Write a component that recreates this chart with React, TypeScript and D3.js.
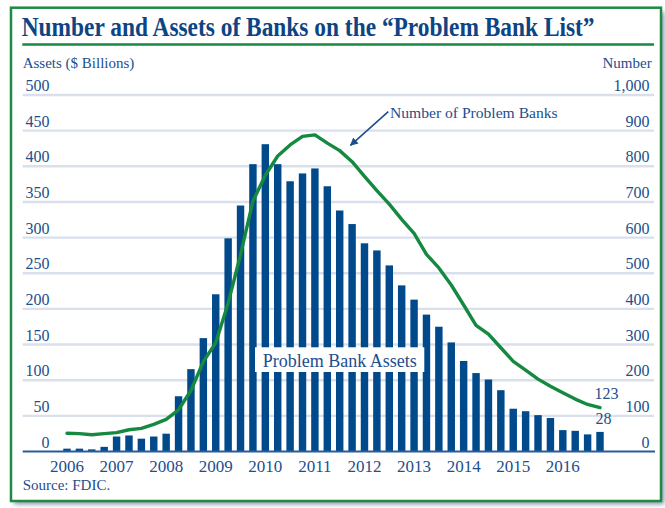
import React, { useEffect, useRef } from 'react';
import { format, line, scaleBand, scaleLinear, select } from 'd3';

// quarterly data, 2006 Q1 .. 2016 Q4
const years = ['2006', '2007', '2008', '2009', '2010', '2011', '2012', '2013', '2014', '2015', '2016'];
const quarters = years.flatMap((y) => ['Q1', 'Q2', 'Q3', 'Q4'].map((q) => `${y} ${q}`));

// Problem Bank Assets ($ billions)
const assets = [
  4, 4, 3, 6.5,
  21, 22.5, 18, 21,
  25, 77.5, 115.5, 159,
  220.5, 299, 345, 403,
  431, 403, 379, 390,
  397, 372, 338, 319,
  292, 282, 261, 233,
  213, 192, 175, 153,
  127, 110, 101, 86,
  60, 56.5, 51, 47,
  30, 29, 24, 27.5,
];

// Number of Problem Banks
const problemBanks = [
  51, 50, 47, 50,
  53, 61, 65, 76,
  90, 117, 171, 252,
  305, 416, 552, 702,
  775, 829, 860, 884,
  888, 865, 844, 813,
  772, 732, 694, 651,
  612, 553, 515, 467,
  411, 354, 329, 291,
  253, 228, 203, 183,
  165, 147, 132, 123,
];

const assetTicks = [0, 50, 100, 150, 200, 250, 300, 350, 400, 450, 500];
const numberTicks = [0, 100, 200, 300, 400, 500, 600, 700, 800, 900, 1000];

const W = 665, H = 508;
const margin = { top: 95, bottom: 451.5, left: 22.7, right: 654 };
const font = '"Liberation Serif", "Times New Roman", serif';
const textBlue = '#1d4e8d';
const barBlue = '#004a8c';
const green = '#14893f';

export default function App() {
  const gRef = useRef<SVGGElement>(null);

  const x = scaleBand().domain(quarters).range([60.8, 606.2]).paddingInner(0.4).paddingOuter(0.2);
  const yLeft = scaleLinear().domain([0, 500]).range([margin.bottom, margin.top]);
  const yRight = scaleLinear().domain([0, 1000]).range([margin.bottom, margin.top]);
  const cx = (q: string) => (x(q) as number) + x.bandwidth() / 2;

  useEffect(() => {
    const g = select(gRef.current);

    g.select('.bars')
      .selectAll('rect')
      .data(assets)
      .join('rect')
      .attr('x', (_d, i) => x(quarters[i]) as number)
      .attr('y', (d) => yLeft(d))
      .attr('width', x.bandwidth())
      .attr('height', (d) => yLeft(0) - yLeft(d))
      .attr('fill', barBlue);

    const path = line<number>()
      .x((_d, i) => cx(quarters[i]))
      .y((d) => yRight(d));

    g.select('.banks')
      .selectAll('path')
      .data([problemBanks])
      .join('path')
      .attr('d', (d) => path(d))
      .attr('fill', 'none')
      .attr('stroke', green)
      .attr('stroke-width', 3.4)
      .attr('stroke-linejoin', 'round')
      .attr('stroke-linecap', 'round');
  }, []);

  const last = quarters.length - 1;

  return (
    <svg width={W} height={H} style={{ position: 'absolute', left: 0, top: 0 }} fontFamily={font}>
      <defs>
        <filter id="shadow" x="-5%" y="-5%" width="110%" height="110%">
          <feGaussianBlur stdDeviation="2.5" />
        </filter>
        <marker id="arrow" viewBox="0 0 10 10" refX="9" refY="5" markerWidth="5" markerHeight="5" orient="auto">
          <path d="M0,0 L10,5 L0,10 z" fill={textBlue} />
        </marker>
      </defs>
      <rect width={W} height={H} fill="#fff" />
      {/* frame + drop shadow */}
      <rect x={14} y={12} width={650} height={492} fill="#7d8ca6" filter="url(#shadow)" />
      <rect x={11} y={7.7} width={650} height={493.3} fill="#fff" stroke="#1e8b45" strokeWidth={2.5} />

      {/* condensed bold title */}
      <text transform="translate(21.7,36) scale(0.883,1)" fontSize={26.5} fontWeight="bold" fill="#0d4483">
        Number and Assets of Banks on the “Problem Bank List”
      </text>
      <line x1={22.3} x2={654} y1={44.5} y2={44.5} stroke={green} strokeWidth={2.6} />

      <text x={22.7} y={68.3} fontSize={15} fill={textBlue}>Assets ($ Billions)</text>
      <text x={651.7} y={68.3} fontSize={15} fill={textBlue} textAnchor="end">Number</text>

      {/* gridlines and tick labels */}
      <g>
        {assetTicks.filter((t) => t > 0).map((t) => (
          <line key={t} x1={margin.left} x2={margin.right} y1={yLeft(t)} y2={yLeft(t)}
            stroke="#dadfec" strokeWidth={2.4} />
        ))}
        {assetTicks.map((t) => (
          <text key={t} x={49.5} y={yLeft(t) - 4} fontSize={16} fill={textBlue} textAnchor="end">{t}</text>
        ))}
        {numberTicks.map((t) => (
          <text key={t} x={649.5} y={yRight(t) - 4} fontSize={16} fill={textBlue} textAnchor="end">
            {format(',')(t)}
          </text>
        ))}
      </g>

      <g ref={gRef}>
        <g className="bars" />
        <line x1={margin.left} x2={margin.right + 1} y1={yLeft(0)} y2={yLeft(0)} stroke="#2a5c9a" strokeWidth={2} />
        <g className="banks" />
      </g>

      {years.map((yr) => (
        <text key={yr} x={cx(`${yr} Q1`)} y={471.7} fontSize={17} fill={textBlue} textAnchor="middle">{yr}</text>
      ))}

      {/* annotations */}
      <rect x={255} y={347.3} width={169.3} height={24.7} fill="#fff" />
      <text x={339.7} y={367.3} fontSize={18} fill={textBlue} textAnchor="middle">Problem Bank Assets</text>

      <line x1={388.3} y1={111.7} x2={350.5} y2={145.3} stroke={textBlue} strokeWidth={1.6} markerEnd="url(#arrow)" />
      <text x={390} y={118.3} fontSize={15.6} fill={textBlue}>Number of Problem Banks</text>

      <text x={606.5} y={399.3} fontSize={16} fill={textBlue} textAnchor="middle">{problemBanks[last]}</text>
      <text x={603.5} y={424} fontSize={16} fill={textBlue} textAnchor="middle">{Math.round(assets[last])}</text>

      <text x={22.7} y={490} fontSize={15} fill={textBlue}>Source: FDIC.</text>
    </svg>
  );
}
